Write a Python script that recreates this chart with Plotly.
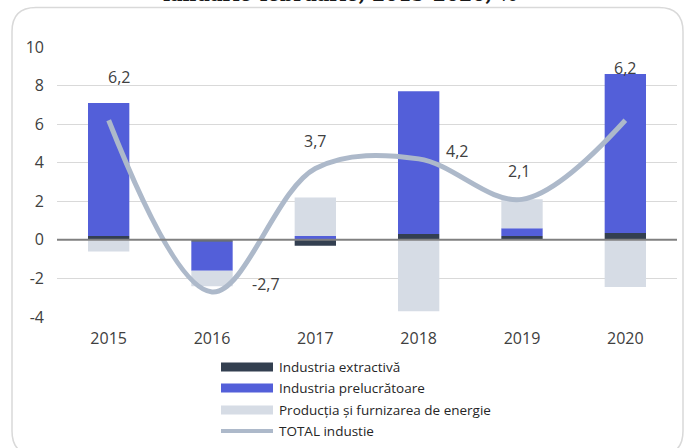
import plotly.graph_objects as go

years = ["2015", "2016", "2017", "2018", "2019", "2020"]
extractiva = [0.2, -0.1, -0.3, 0.3, 0.2, 0.35]
prelucratoare = [6.9, -1.5, 0.2, 7.4, 0.4, 8.25]
energie = [-0.6, -0.8, 2.0, -3.7, 1.5, -2.45]
total = [6.2, -2.7, 3.7, 4.2, 2.1, 6.2]
y_tickvals = [-4, -2, 0, 2, 4, 6, 8, 10]
y_ticktext = ["-4", "-2", "0", "2", "4", "6", "8", "10"]
series_names = ["Industria extractivă", "Industria prelucrătoare",
                "Producția și furnizarea de energie", "TOTAL industie"]
title_text = "ianuarie-februarie, 2015-2020, %"

C_EXT = "#333f50"
C_PRE = "#535fd9"
C_ENE = "#d6dce5"
C_TOT = "#adb9ca"
TXT = "#404040"
FONT = "Open Sans"

W, H = 686, 448
L, R, T, B = 57, 9, 47, 131
PW, PH = W - L - R, H - T - B


def px(x):
    return (x - L) / PW


def py(y):
    return (H - B - y) / PH


fig = go.Figure()
for name, vals, col in [(series_names[0], extractiva, C_EXT),
                        (series_names[1], prelucratoare, C_PRE),
                        (series_names[2], energie, C_ENE)]:
    fig.add_trace(go.Bar(x=years, y=vals, name=name, marker_color=col,
                         marker_line_width=0, width=0.4, showlegend=False,
                         hoverinfo="skip"))

fig.add_trace(go.Scatter(x=years, y=total, name=series_names[3], mode="lines",
                         line=dict(color=C_TOT, width=5, shape="spline", smoothing=1.0),
                         showlegend=False, hoverinfo="skip"))

# data labels with manual offsets like the source
offsets = [(10, 43), (54, 8), (0, 28), (38, 8), (-3, 28), (0, 52)]
annotations = []
for i, (v, (dx, dy)) in enumerate(zip(total, offsets)):
    annotations.append(dict(x=i, y=v, xref="x", yref="y", text=f"{v:.1f}".replace(".", ","),
                            showarrow=False, xshift=dx, yshift=dy,
                            font=dict(family=FONT, size=16, color=TXT)))

# legend (manual)
rows_y = [367, 388, 410, 431]
shapes = []
for col, yc in zip([C_EXT, C_PRE, C_ENE], rows_y[:3]):
    shapes.append(dict(type="rect", xref="paper", yref="paper",
                       x0=px(221), x1=px(273), y0=py(yc + 4.5), y1=py(yc - 4.5),
                       fillcolor=col, line_width=0, layer="above"))
shapes.append(dict(type="line", xref="paper", yref="paper",
                   x0=px(221), x1=px(273), y0=py(rows_y[3]), y1=py(rows_y[3]),
                   line=dict(color=C_TOT, width=4), layer="above"))
for name, yc in zip(series_names, rows_y):
    annotations.append(dict(x=px(277), y=py(yc), xref="paper", yref="paper", text=name,
                            showarrow=False, xanchor="left", yanchor="middle",
                            font=dict(family=FONT, size=13.5, color="#262626")))

# zero line on top of bars
shapes.append(dict(type="line", xref="paper", yref="y", x0=0, x1=1, y0=0, y1=0,
                   line=dict(color="#808080", width=2), layer="above"))

# rounded outer border
x0b, x1b, y0b, y1b, r = 12, 683, 7.5, 455, 24
path = (f"M {px(x0b + r)},{py(y0b)} L {px(x1b - r)},{py(y0b)} "
        f"Q {px(x1b)},{py(y0b)} {px(x1b)},{py(y0b + r)} "
        f"L {px(x1b)},{py(y1b - r)} Q {px(x1b)},{py(y1b)} {px(x1b - r)},{py(y1b)} "
        f"L {px(x0b + r)},{py(y1b)} Q {px(x0b)},{py(y1b)} {px(x0b)},{py(y1b - r)} "
        f"L {px(x0b)},{py(y0b + r)} Q {px(x0b)},{py(y0b)} {px(x0b + r)},{py(y0b)} Z")
shapes.append(dict(type="path", xref="paper", yref="paper", path=path,
                   line=dict(color="#d9d9d9", width=1.5), fillcolor="rgba(0,0,0,0)",
                   layer="below"))

# title (cut off at top in the source)
annotations.append(dict(x=px(340), y=py(7), xref="paper", yref="paper",
                        text="<b>" + title_text + "</b>",
                        showarrow=False, xanchor="center", yanchor="bottom",
                        font=dict(family="DejaVu Serif", size=19, color="#1a1a1a")))

fig.update_layout(
    width=W, height=H, margin=dict(l=L, r=R, t=T, b=B, autoexpand=False),
    barmode="relative",
    paper_bgcolor="white", plot_bgcolor="white",
    shapes=shapes, annotations=annotations,
    font=dict(family=FONT, color=TXT),
    xaxis=dict(type="category", range=[-0.5, 5.5], autorange=False, showgrid=False,
               zeroline=False, showline=False, automargin=False,
               ticks="", tickfont=dict(family=FONT, size=16, color=TXT),
               ticklabelstandoff=10, fixedrange=True),
    yaxis=dict(range=[-4, 10], autorange=False, tickvals=y_tickvals, ticktext=y_ticktext,
               showgrid=True, gridcolor="#d9d9d9", gridwidth=1, automargin=False,
               zeroline=False, showline=False, ticks="",
               tickfont=dict(family=FONT, size=16, color=TXT),
               ticklabelstandoff=12, fixedrange=True),
)

fig.write_html("out.html", config={"displayModeBar": False},
               post_script="document.body.style.margin='0';")
